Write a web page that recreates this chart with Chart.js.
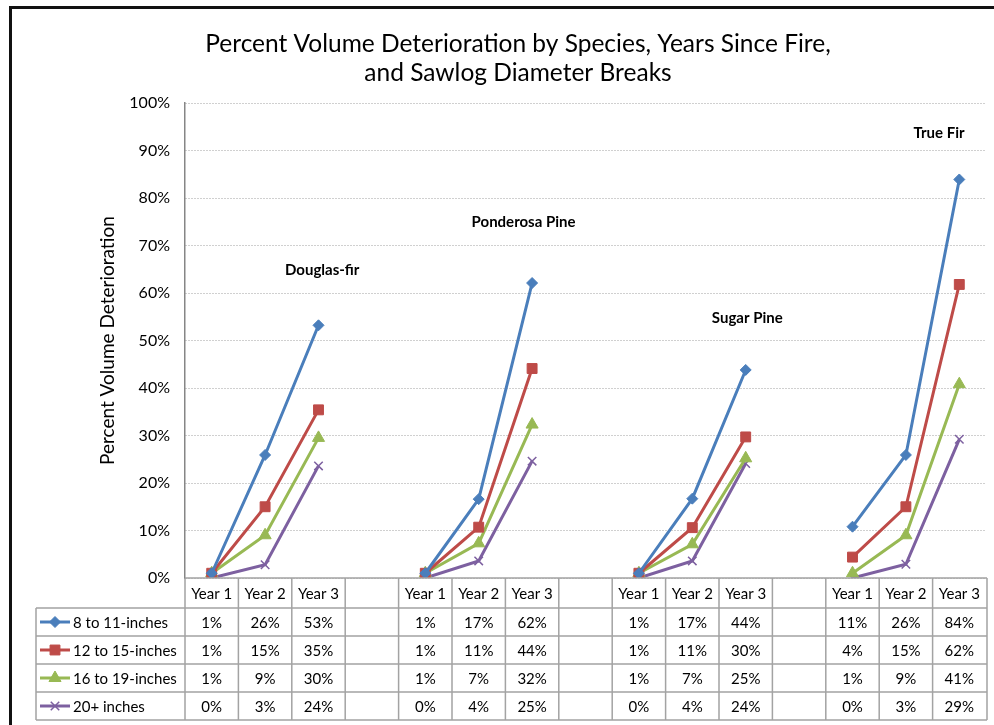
<!DOCTYPE html>
<html>
<head>
<meta charset="utf-8">
<script src="https://cdn.jsdelivr.net/npm/chart.js@4.4.1/dist/chart.umd.min.js"></script>
<style>
  html, body { margin: 0; padding: 0; background: #fff; }
  #wrap { width: 994px; height: 725px; }
</style>
</head>
<body>
<div id="wrap"><canvas id="chart" width="994" height="725"></canvas></div>
<script>
// categories: 4 species x 3 years, blank column between groups
const categories = ['Year 1', 'Year 2', 'Year 3', '',
                    'Year 1', 'Year 2', 'Year 3', '',
                    'Year 1', 'Year 2', 'Year 3', '',
                    'Year 1', 'Year 2', 'Year 3'];
const species = ['Douglas-fir', 'Ponderosa Pine', 'Sugar Pine', 'True Fir'];
const seriesNames = ['8 to 11-inches', '12 to 15-inches', '16 to 19-inches', '20+ inches'];
const titleLines = ['Percent Volume Deterioration by Species, Years Since Fire,', 'and Sawlog Diameter Breaks'];

// percent volume deterioration (table shows rounded values)
const in8to11  = [1.0, 25.9, 53.2, null, 1.0, 16.6, 62.1, null, 1.0, 16.7, 43.8, null, 10.8, 25.9, 83.9];
const in12to15 = [1.0, 15.0, 35.4, null, 1.0, 10.7, 44.1, null, 1.0, 10.6, 29.7, null,  4.4, 15.0, 61.8];
const in16to19 = [1.0,  9.0, 29.5, null, 1.0,  7.3, 32.3, null, 1.0,  7.1, 25.2, null,  1.0,  9.0, 40.8];
const in20plus = [0.0,  2.8, 23.6, null, 0.0,  3.6, 24.6, null, 0.0,  3.6, 24.1, null,  0.0,  2.9, 29.2];

const FONT = 'Lato, "Noto Sans", sans-serif';

// black frame of the embedded chart object + title (chart object is wider than the crop)
const frame = {
  id: 'frame',
  afterDraw(chart) {
    const ctx = chart.ctx;
    ctx.save();
    ctx.strokeStyle = '#111';
    ctx.lineWidth = 3;
    ctx.beginPath();
    ctx.moveTo(10.5, 725);
    ctx.lineTo(10.5, 7.5);
    ctx.lineTo(994, 7.5);
    ctx.stroke();

    ctx.fillStyle = '#000';
    ctx.font = '24.5px ' + FONT;
    ctx.textAlign = 'center';
    ctx.textBaseline = 'middle';
    titleLines.forEach((t, i) => ctx.fillText(t, 518, 44 + i * 29));
    ctx.restore();
  }
};

// species names floating over each group
const speciesLabels = {
  id: 'speciesLabels',
  afterDatasetsDraw(chart, args, opts) {
    const { ctx, scales: { x, y } } = chart;
    ctx.save();
    ctx.font = 'bold 15px ' + FONT;
    ctx.fillStyle = '#000';
    ctx.textAlign = 'center';
    ctx.textBaseline = 'middle';
    species.forEach((name, i) => {
      const [ix, vy] = opts.anchors[i];
      ctx.fillText(name, x.getPixelForValue(ix), y.getPixelForValue(vy));
    });
    ctx.restore();
  }
};

// Excel style data table under the plot
const dataTable = {
  id: 'dataTable',
  afterDraw(chart) {
    const { ctx, chartArea, scales: { x } } = chart;
    const top = chartArea.bottom;
    const headH = 30, rowH = 28;
    const legendLeft = 36;
    const step = x.getPixelForValue(1) - x.getPixelForValue(0);
    const left = chartArea.left;
    const right = chartArea.right + 1;
    const rows = chart.data.datasets.length;
    const bottom = top + headH + rows * rowH;

    ctx.save();
    ctx.strokeStyle = '#a3a3a3';
    ctx.lineWidth = 1.5;
    ctx.beginPath();
    ctx.moveTo(left, top); ctx.lineTo(right, top);
    for (let r = 0; r <= rows; r++) {
      const yy = top + headH + r * rowH;
      ctx.moveTo(legendLeft, yy); ctx.lineTo(right, yy);
    }
    for (let i = 0; i <= categories.length; i++) {
      const xx = i < categories.length ? x.getPixelForValue(i) - step / 2 : right;
      ctx.moveTo(xx, top); ctx.lineTo(xx, bottom);
    }
    ctx.moveTo(legendLeft, top + headH); ctx.lineTo(legendLeft, bottom);
    ctx.stroke();

    ctx.fillStyle = '#000';
    ctx.font = '15px ' + FONT;
    ctx.textBaseline = 'middle';
    ctx.textAlign = 'center';
    categories.forEach((c, i) => {
      ctx.fillText(c, x.getPixelForValue(i), top + headH / 2 + 1);
    });

    chart.data.datasets.forEach((ds, r) => {
      const cy = top + headH + r * rowH + rowH / 2;
      // legend key
      ctx.strokeStyle = ds.borderColor;
      ctx.fillStyle = ds.borderColor;
      ctx.lineWidth = 3;
      ctx.beginPath();
      ctx.moveTo(40, cy); ctx.lineTo(70, cy);
      ctx.stroke();
      ctx.lineWidth = ds.pointBorderWidth;
      Chart.helpers.drawPoint(ctx, {
        pointStyle: ds.pointStyle,
        radius: ds.pointRadius,
        borderWidth: ds.pointBorderWidth
      }, 55, cy);
      ctx.fillStyle = '#000';
      ctx.textAlign = 'left';
      ctx.fillText(ds.label, 73, cy + 1);
      ctx.textAlign = 'center';
      ds.data.forEach((v, i) => {
        if (v === null) return;
        ctx.fillText(Math.round(v) + '%', x.getPixelForValue(i), cy + 1);
      });
    });
    ctx.restore();
  }
};

function series(label, data, color, style, radius) {
  return {
    label, data,
    borderColor: color,
    backgroundColor: color,
    pointBackgroundColor: color,
    pointBorderColor: color,
    pointStyle: style,
    pointRadius: radius,
    pointBorderWidth: style === 'crossRot' ? 1.5 : 1,
    borderWidth: 3,
    spanGaps: false
  };
}

new Chart(document.getElementById('chart'), {
  type: 'line',
  data: {
    labels: categories,
    datasets: [
      series(seriesNames[0], in8to11, '#4a7ebb', 'rectRot', 5.5),
      series(seriesNames[1], in12to15, '#be4b48', 'rect', 7),
      series(seriesNames[2], in16to19, '#98b954', 'triangle', 7),
      series(seriesNames[3], in20plus, '#7d60a0', 'crossRot', 6)
    ]
  },
  options: {
    responsive: false,
    animation: false,
    layout: { padding: { left: 0, right: 8, top: 103, bottom: 0 } },
    plugins: {
      legend: { display: false },
      tooltip: { enabled: false },
      title: { display: false },
      speciesLabels: { anchors: [[2.07, 64.8], [5.84, 74.9], [10.03, 54.7], [13.62, 93.7]] }
    },
    scales: {
      x: {
        offset: true,
        grid: { display: false },
        border: { display: false },
        ticks: { display: false },
        afterFit(scale) { scale.height = 147; }
      },
      y: {
        min: 0,
        max: 100,
        ticks: {
          stepSize: 10,
          color: '#000',
          padding: 15,
          font: { family: FONT, size: 16 },
          callback: v => v + '%'
        },
        grid: { color: '#a0a0a0', lineWidth: 1, drawTicks: false },
        border: { display: true, color: '#868686', width: 1.5, dash: [1, 2] },
        title: {
          display: true,
          text: 'Percent Volume Deterioration',
          color: '#000',
          font: { family: FONT, size: 19 },
          padding: { top: 96 }
        },
        afterFit(scale) { scale.width = 185; }
      }
    }
  },
  plugins: [dataTable, speciesLabels, frame]
});
</script>
</body>
</html>
